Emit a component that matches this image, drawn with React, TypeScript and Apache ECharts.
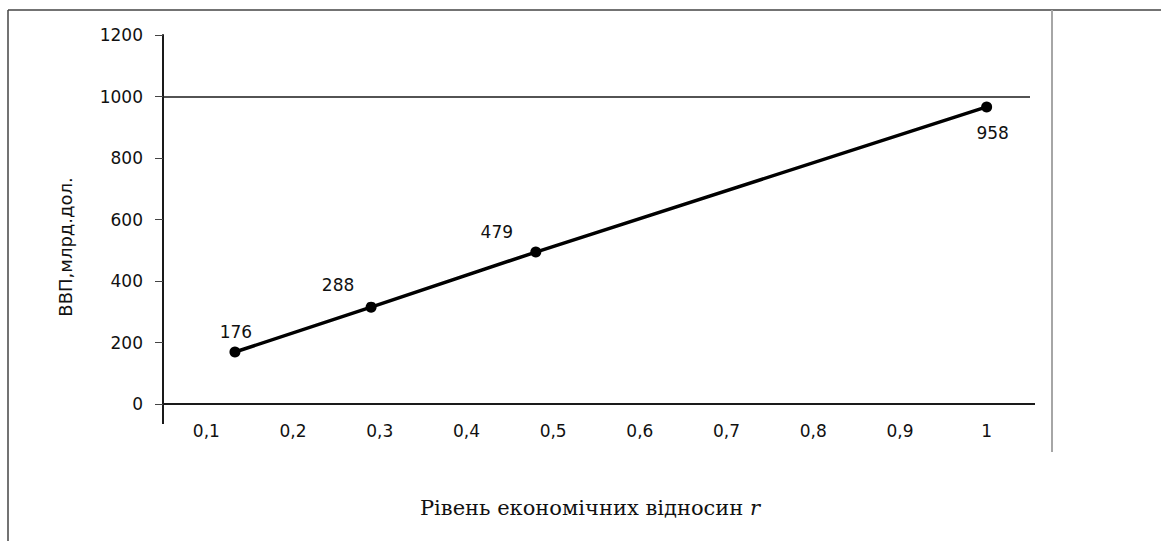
import React, { useEffect, useRef } from "react";
import * as echarts from "echarts";

const xCategories = ["0,1", "0,2", "0,3", "0,4", "0,5", "0,6", "0,7", "0,8", "0,9", "1"];
const rValues = [0.133, 0.29, 0.48, 1.0];
const gdpValues = [169, 315, 494, 966];
const gdpLabels = ["176", "288", "479", "958"];
const referenceLevel = 1000;
const yTitle = "ВВП,млрд.дол.";
const xTitle = "Рівень економічних відносин ";
const xTitleVar = "r";

const labelOffsets = [
  [1, -20],
  [-33, -22],
  [-39, -20],
  [6, 26],
];

export default function App() {
  const ref = useRef<HTMLDivElement>(null);
  useEffect(() => {
    if (!ref.current) return;
    const chart = echarts.init(ref.current, null, { renderer: "svg" });
    const sans = "DejaVu Sans";
    chart.setOption({
      animation: false,
      backgroundColor: "#ffffff",
      grid: { left: 163, right: 131, top: 35, bottom: 137, containLabel: false },
      xAxis: [
        {
          type: "category",
          data: xCategories,
          boundaryGap: true,
          axisLine: { lineStyle: { color: "#1a1a1a", width: 2 } },
          axisTick: { length: 6, lineStyle: { color: "#8a8a8a", width: 1 } },
          axisLabel: { fontSize: 17, color: "#111", margin: 18, fontFamily: sans },
          splitLine: { show: false },
        },
        { type: "value", min: 0.05, max: 1.05, show: false },
      ],
      yAxis: {
        type: "value",
        min: 0,
        max: 1200,
        interval: 200,
        axisLine: { show: true, lineStyle: { color: "#1a1a1a", width: 2 } },
        axisTick: { show: true, length: 8, lineStyle: { color: "#444", width: 1 } },
        axisLabel: {
          fontSize: 17,
          color: "#111",
          margin: 20,
          fontFamily: sans,
          formatter: (v: number) => String(v),
        },
        splitLine: { show: false },
      },
      series: [
        {
          type: "line",
          xAxisIndex: 1,
          data: rValues.map((r, i) => ({
            value: [r, gdpValues[i]],
            label: { offset: labelOffsets[i] },
          })),
          symbol: "circle",
          symbolSize: 11,
          itemStyle: { color: "#000" },
          lineStyle: { color: "#000", width: 3.5 },
          label: {
            show: true,
            position: "inside",
            fontSize: 17,
            color: "#111",
            fontFamily: sans,
            formatter: (p: any) => gdpLabels[p.dataIndex],
          },
          markLine: {
            silent: true,
            symbol: ["none", "none"],
            label: { show: false },
            lineStyle: { color: "#1a1a1a", width: 1.5, type: "solid" },
            data: [{ yAxis: referenceLevel }],
          },
        },
      ],
      graphic: [
        { type: "line", shape: { x1: 8, y1: 10, x2: 8, y2: 541 }, style: { stroke: "#444", lineWidth: 1.5 } },
        { type: "line", shape: { x1: 8, y1: 10, x2: 1161, y2: 10 }, style: { stroke: "#444", lineWidth: 1.5 } },
        { type: "line", shape: { x1: 1052, y1: 10, x2: 1052, y2: 452 }, style: { stroke: "#a6a6a6", lineWidth: 2 } },
        { type: "line", shape: { x1: 163, y1: 404, x2: 163, y2: 424 }, style: { stroke: "#1a1a1a", lineWidth: 2 } },
        { type: "line", shape: { x1: 1030, y1: 404, x2: 1035, y2: 404 }, style: { stroke: "#1a1a1a", lineWidth: 2 } },
        {
          type: "text",
          x: 65,
          y: 247,
          rotation: Math.PI / 2,
          style: {
            text: yTitle,
            fontSize: 18,
            fontFamily: sans,
            fill: "#111",
            textAlign: "center",
            textVerticalAlign: "middle",
          },
        },
        {
          type: "text",
          x: 590,
          y: 508,
          style: {
            text: "{a|" + xTitle + "}{b|" + xTitleVar + "}",
            textAlign: "center",
            textVerticalAlign: "middle",
            rich: {
              a: { fontSize: 21, fontFamily: "DejaVu Serif", fill: "#111" },
              b: { fontSize: 21, fontFamily: "DejaVu Serif", fontStyle: "italic", fill: "#111" },
            },
          },
        },
      ],
    });
    return () => chart.dispose();
  }, []);
  return (
    <div
      ref={ref}
      style={{ position: "fixed", left: 0, top: 0, width: 1161, height: 541, background: "#fff" }}
    />
  );
}
